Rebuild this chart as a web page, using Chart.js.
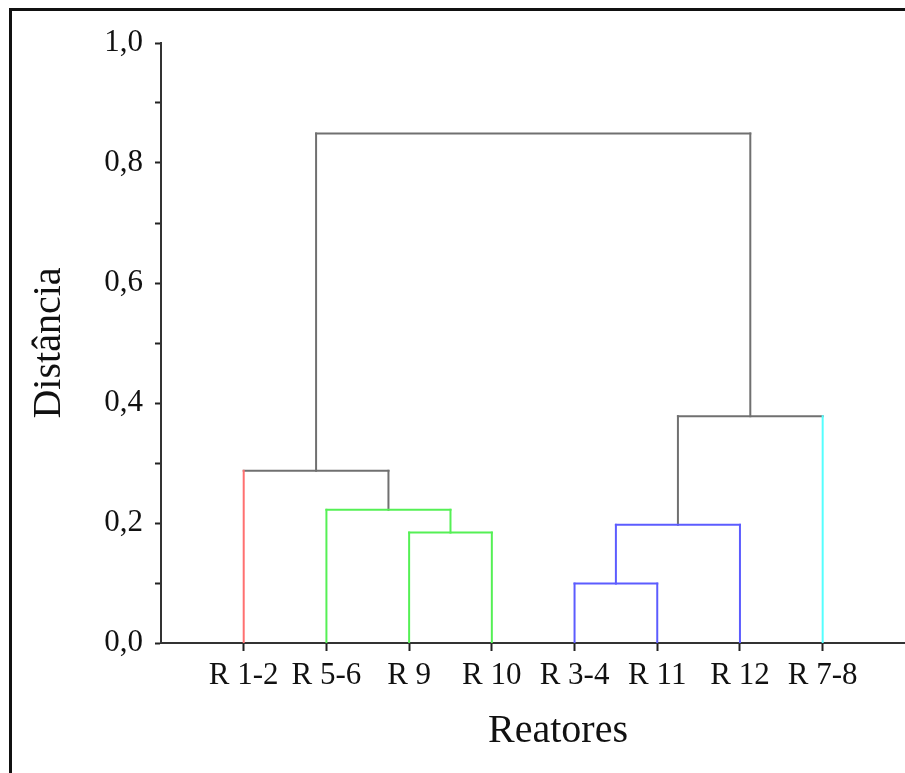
<!DOCTYPE html>
<html lang="pt">
  <head>
    <meta charset="UTF-8" />
    <title>Dendrograma - Reatores</title>
    <script src="https://cdn.jsdelivr.net/npm/chart.js"></script>
    <style>
      html, body {
        margin: 0;
        padding: 0;
        background: #fff;
        overflow: hidden;
        width: 905px;
        height: 773px;
      }
      /* frame of the original figure (cropped on the right and bottom) */
      .frame {
        position: absolute;
        left: 9px;
        top: 8px;
        width: 1200px;
        height: 1200px;
        border-left: 3px solid #111;
        border-top: 3px solid #111;
      }
      #dendro {
        position: absolute;
        left: 0;
        top: 0;
      }
    </style>
  </head>
  <body>
    <div class="frame"></div>
    <canvas id="dendro" width="955" height="773"></canvas>

    <script>
      // leaves, left to right
      const leafLabels = ["R 1-2", "R 5-6", "R 9", "R 10", "R 3-4", "R 11", "R 12", "R 7-8"];
      const leafGroup = ["red", "green", "green", "green", "blue", "blue", "blue", "cyan"];

      // merges: node ids 0-7 are leaves, 8+ are the merges in this order
      const linkLeft = [2, 1, 0, 4, 11, 12, 10];
      const linkRight = [3, 8, 9, 5, 6, 7, 13];
      const linkHeight = [0.184, 0.222, 0.287, 0.099, 0.197, 0.378, 0.849];
      const linkGroup = ["green", "green", "gray", "blue", "blue", "gray", "gray"];

      // y axis ticks
      const yTicks = [0, 0.1, 0.2, 0.3, 0.4, 0.5, 0.6, 0.7, 0.8, 0.9, 1.0];

      const palette = {
        red: "#ff7070",
        green: "#55f055",
        blue: "#5c5cff",
        cyan: "#55ffff",
        gray: "#707070",
      };

      // node positions / heights
      const nLeaves = leafLabels.length;
      const nodeX = leafLabels.map((_, i) => i + 1);
      const nodeH = leafLabels.map(() => 0);
      const parentH = [];
      linkLeft.forEach((l, k) => {
        const r = linkRight[k];
        const id = nLeaves + k;
        nodeX[id] = (nodeX[l] + nodeX[r]) / 2;
        nodeH[id] = linkHeight[k];
        parentH[l] = linkHeight[k];
        parentH[r] = linkHeight[k];
      });

      function segment(points, group) {
        return {
          data: points,
          borderColor: palette[group],
          borderWidth: 2,
          borderCapStyle: "square",
          pointRadius: 0,
          showLine: true,
          fill: false,
        };
      }

      const datasets = [];
      // leaf stems, in the leaf colour
      for (let i = 0; i < nLeaves; i++) {
        datasets.push(segment([{ x: nodeX[i], y: 0 }, { x: nodeX[i], y: parentH[i] }], leafGroup[i]));
      }
      // each merge: horizontal bar + stems of merged clusters
      linkLeft.forEach((l, k) => {
        const r = linkRight[k];
        const h = linkHeight[k];
        const g = linkGroup[k];
        [l, r].forEach((c) => {
          if (c >= nLeaves) {
            datasets.push(segment([{ x: nodeX[c], y: nodeH[c] }, { x: nodeX[c], y: h }], g));
          }
        });
        datasets.push(segment([{ x: nodeX[l], y: h }, { x: nodeX[r], y: h }], g));
      });

      const tickFont = { family: "'Liberation Serif', 'Times New Roman', serif", size: 31 };
      const titleFont = { family: "'Liberation Serif', 'Times New Roman', serif", size: 40 };

      new Chart(document.getElementById("dendro"), {
        type: "scatter",
        data: { datasets: datasets },
        options: {
          responsive: false,
          animation: false,
          layout: { padding: { top: 43, left: 0, right: 0, bottom: 0 } },
          plugins: { legend: { display: false }, tooltip: { enabled: false } },
          scales: {
            x: {
              type: "linear",
              min: 0,
              max: 9.6,
              afterFit: (s) => { s.height = 130; },
              afterBuildTicks: (s) => { s.ticks = nodeX.slice(0, nLeaves).map((v) => ({ value: v })); },
              grid: { drawOnChartArea: false, tickLength: 8, color: "#222", tickWidth: 2 },
              border: { display: true, color: "#333", width: 2 },
              ticks: {
                autoSkip: false,
                maxRotation: 0,
                padding: 6,
                color: "#111",
                font: tickFont,
                callback: (v) => leafLabels[Math.round(v) - 1],
              },
              title: {
                display: true,
                text: "Reatores",
                color: "#111",
                font: titleFont,
                padding: { top: 0, bottom: 18 },
              },
            },
            y: {
              type: "linear",
              min: 0,
              max: 1,
              afterFit: (s) => { s.width = 161; },
              afterBuildTicks: (s) => { s.ticks = yTicks.map((v) => ({ value: v })); },
              grid: { drawOnChartArea: false, tickLength: 6, color: "#222", tickWidth: 2 },
              border: { display: true, color: "#333", width: 2 },
              ticks: {
                padding: 12,
                color: "#111",
                font: tickFont,
                callback: (v) => (Math.round(v * 10) % 2 === 0 ? v.toFixed(1).replace(".", ",") : ""),
              },
              title: {
                display: true,
                text: "Distância",
                color: "#111",
                font: titleFont,
                padding: { top: 25, bottom: 0 },
              },
            },
          },
        },
      });
    </script>
  </body>
</html>
